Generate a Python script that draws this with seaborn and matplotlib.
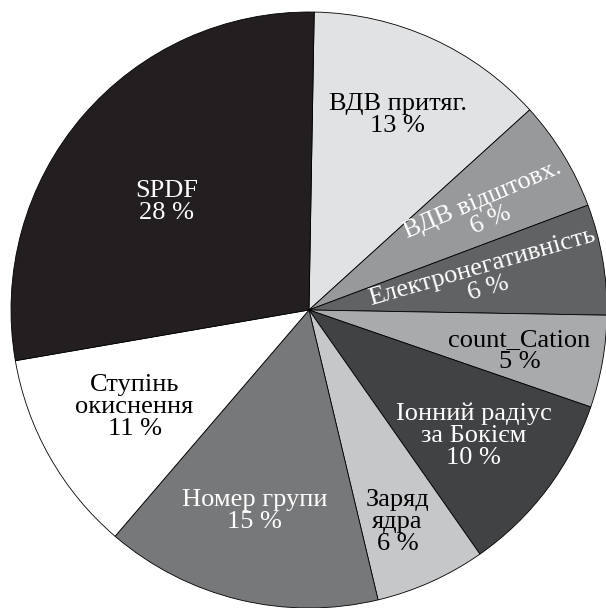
import matplotlib.pyplot as plt
import seaborn as sns
import numpy as np

# slices, clockwise from the top
labels = ['ВДВ притяг.', 'ВДВ відштовх.', 'Електронегативність', 'count_Cation',
          'Іонний радіус\nза Бокієм', 'Заряд\nядра', 'Номер групи',
          'Ступінь\nокиснення', 'SPDF']
shares = [13, 6, 6, 5, 10, 6, 15, 11, 28]

colors = ['#e1e2e4', '#98999b', '#616264', '#a9aaac', '#414244',
          '#c6c7c9', '#77787a', '#ffffff', '#231f20']
text_colors = ['black', 'white', 'white', 'black', 'white', 'black', 'white', 'black', 'white']
# label placement: fraction of radius, angle shift from the wedge middle, text rotation
label_r = [0.72, 0.685, 0.60, 0.72, 0.695, 0.77, 0.70, 0.67, 0.60]
label_shift = [0, -2, 0.5, -1, -0.4, -1.5, -1.6, -0.5, 3.5]
label_rot = [0, 23, 16, 0, 0, 0, 0, 0, 0]

sns.set_theme(style='white')
plt.rcParams['font.family'] = ['Liberation Serif', 'DejaVu Serif']

fig = plt.figure(figsize=(6.06, 6.08), dpi=100)
ax = fig.add_axes([0, 0, 1, 1])
wedges, _ = ax.pie(shares, colors=colors, startangle=89, counterclock=False,
                   wedgeprops=dict(edgecolor='black', linewidth=0.6))

for w, lab, v, tc, r, sh, rot in zip(wedges, labels, shares, text_colors,
                                     label_r, label_shift, label_rot):
    mid = np.deg2rad((w.theta1 + w.theta2) / 2 + sh)
    ax.text(r * np.cos(mid), r * np.sin(mid), f'{lab}\n{v} %', color=tc,
            ha='center', va='center', fontsize=19, linespacing=1.0,
            rotation=rot, rotation_mode='anchor')

# centre at pixel (309, 310), radius 298 px
R = 298
ax.set_xlim(-309 / R, (606 - 309) / R)
ax.set_ylim(-(608 - 310) / R, 310 / R)
ax.set_aspect('auto')
ax.axis('off')

plt.savefig('out.png', dpi=100)
